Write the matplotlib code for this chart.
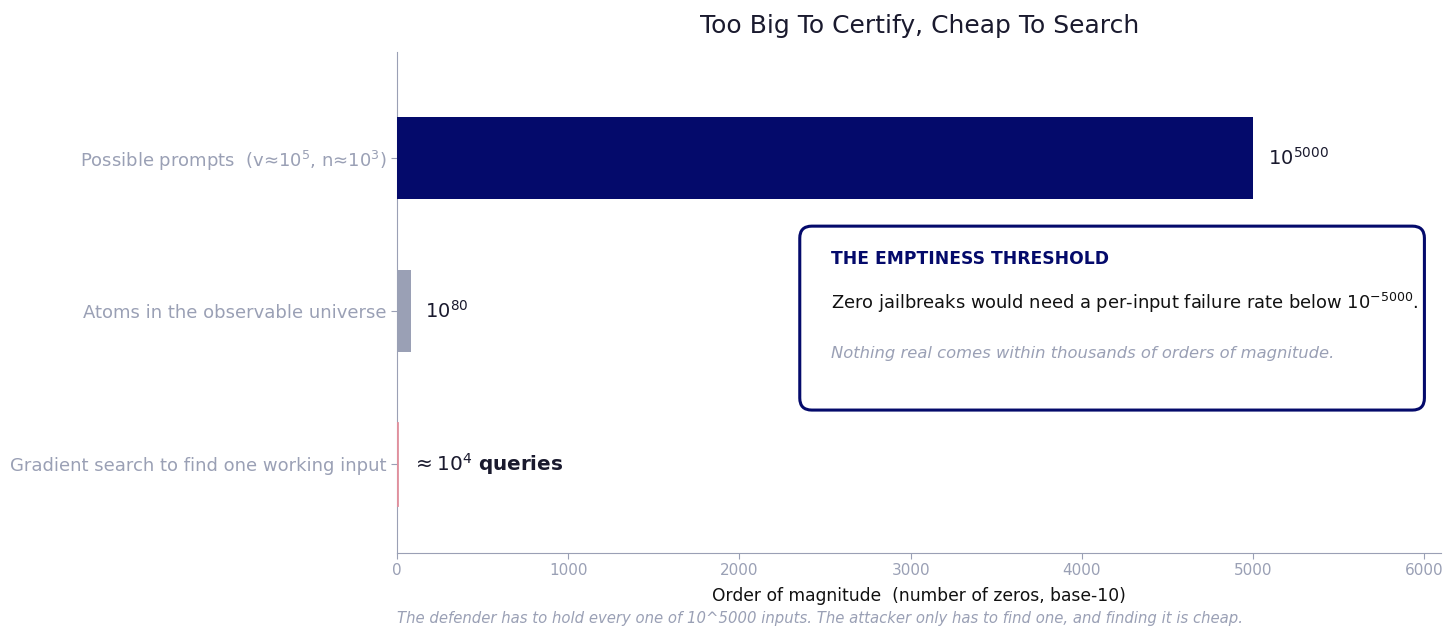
import matplotlib
matplotlib.use("Agg")
import matplotlib.pyplot as plt
from matplotlib.patches import FancyBboxPatch

categories = ["Possible prompts  (v≈$10^5$, n≈$10^3$)",
              "Atoms in the observable universe",
              "Gradient search to find one working input"]
values = [5000, 80, 4]
bar_labels = ["$10^{5000}$", "$10^{80}$", "$\\approx 10^4$ $\\mathbf{queries}$"]
colors = ["#040a6b", "#9aa0b5", "#e0909e"]
xticks = [0, 1000, 2000, 3000, 4000, 5000, 6000]

NAVY = "#040a6b"
GRAY = "#9aa0b5"
DARK = "#1a1a2e"

fig = plt.figure(figsize=(14.56, 6.37), dpi=100)
ax = fig.add_axes([0.2727, 0.1319, 0.7173, 0.7861])

ypos = list(range(len(categories)))
ax.barh(ypos, values, height=0.54, color=colors, edgecolor=colors,
        linewidth=[0, 0, 1.3], zorder=3)
ax.set_ylim(2.58, -0.69)
ax.set_xlim(0, 6100)
ax.set_yticks(ypos)
ax.set_yticklabels(categories, fontsize=13, color=GRAY)
ax.set_xticks(xticks)
ax.set_xticklabels([str(t) for t in xticks], fontsize=11, color=GRAY)
ax.tick_params(axis="both", colors=GRAY, length=4)
for s in ["top", "right"]:
    ax.spines[s].set_visible(False)
for s in ["left", "bottom"]:
    ax.spines[s].set_color(GRAY)

offsets = [85, 83, 85]
sizes = [14, 14, 14.4]
for i, (v, lab) in enumerate(zip(values, bar_labels)):
    ax.text(v + offsets[i], i, lab, va="center", ha="left", fontsize=sizes[i], color=DARK)

ax.set_xlabel("Order of magnitude  (number of zeros, base-10)", fontsize=12.3, color="#111111", labelpad=6)
ax.set_title("Too Big To Certify, Cheap To Search", fontsize=18, color=DARK, pad=14)

W, H = 1045.0, 501.0
box = FancyBboxPatch((0.3856, 0.2854), 0.9837 - 0.3856, 0.6527 - 0.2854,
                     boxstyle="round,pad=0,rounding_size=0.0115",
                     mutation_aspect=W / H, transform=ax.transAxes,
                     facecolor="white", edgecolor=NAVY, linewidth=2.2, zorder=4)
ax.add_patch(box)
ax.text(2534, 0.66, "THE EMPTINESS THRESHOLD", fontsize=12.3, fontweight="bold",
        color=NAVY, va="center", ha="left", zorder=5)
ax.text(2534, 0.95, "Zero jailbreaks would need a per-input failure rate below $10^{-5000}$.",
        fontsize=12.9, color="#111111", va="center", ha="left", zorder=5)
ax.text(2534, 1.275, "Nothing real comes within thousands of orders of magnitude.",
        fontsize=11.75, color=GRAY, style="italic", va="center", ha="left", zorder=5)

fig.text(397 / 1456, 1 - 618 / 637,
         "The defender has to hold every one of 10^5000 inputs. The attacker only has to find one, and finding it is cheap.",
         fontsize=10.7, color=GRAY, style="italic", va="center", ha="left")

fig.savefig("out.png", dpi=100, facecolor="white")
